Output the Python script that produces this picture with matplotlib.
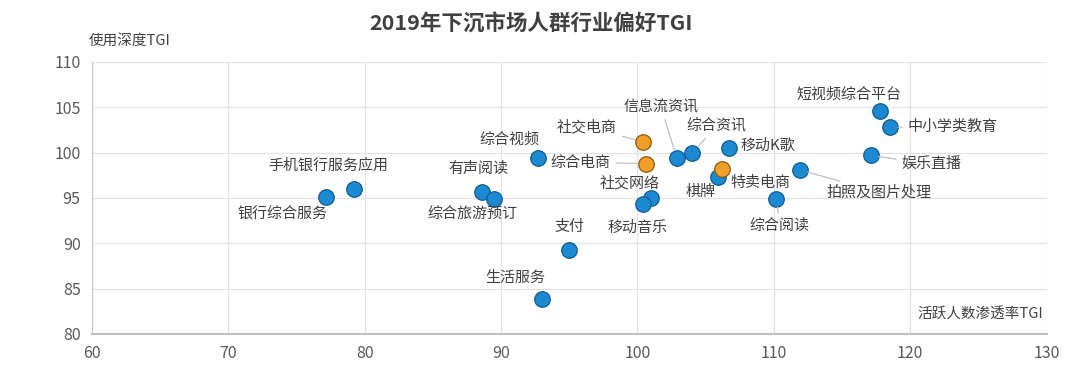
import matplotlib.pyplot as plt

plt.rcParams['font.family'] = ['Noto Sans CJK SC', 'DejaVu Sans']

names = ["银行综合服务", "手机银行服务应用", "有声阅读", "综合旅游预订", "综合视频",
         "生活服务", "支付", "社交电商", "综合电商", "社交网络", "移动音乐",
         "信息流资讯", "综合资讯", "移动K歌", "棋牌", "特卖电商", "拍照及图片处理",
         "综合阅读", "短视频综合平台", "中小学类教育", "娱乐直播"]
reach_tgi = [77.2, 79.2, 88.6, 89.5, 92.7, 93.0, 95.0, 100.4, 100.6, 101.0, 100.4,
             102.9, 104.0, 106.7, 105.9, 106.2, 111.9, 110.2, 117.8, 118.5, 117.1]
depth_tgi = [95.1, 96.0, 95.7, 94.9, 99.4, 83.9, 89.3, 101.2, 98.8, 95.0, 94.3,
             99.4, 100.0, 100.5, 97.3, 98.2, 98.1, 94.9, 104.6, 102.8, 99.7]
ecommerce = ["社交电商", "综合电商", "特卖电商"]

# label offset in pixels, and whether a leader line is drawn
label_pos = {
    "银行综合服务": (-44, -17, False), "手机银行服务应用": (-25, 23, False),
    "有声阅读": (-4, 23, False), "综合旅游预订": (-22, -16, False),
    "综合视频": (-28, 18, False), "生活服务": (-27, 21, False),
    "支付": (0, 23, False), "社交电商": (-56, 15, True),
    "综合电商": (-65, 1, True), "社交网络": (-21, 15, False),
    "移动音乐": (-5, -23, False), "信息流资讯": (-16, 51, True),
    "综合资讯": (25, 26, True), "移动K歌": (39, 2, False),
    "特卖电商": (39, -14, False), "棋牌": (-17, -15, False),
    "拍照及图片处理": (79, -22, True), "综合阅读": (3, -27, True),
    "短视频综合平台": (-31, 16, False), "中小学类教育": (63, 0, True),
    "娱乐直播": (61, -9, True),
}

fig = plt.figure(figsize=(10.8, 3.69), dpi=100)
ax = fig.add_axes([0.085, 0.095, 0.884, 0.737])

for n, x, y in zip(names, reach_tgi, depth_tgi):
    if n in ecommerce:
        fc, ec = "#f0a029", "#8a5a10"
    else:
        fc, ec = "#1b8ad3", "#145c8c"
    ax.scatter(x, y, s=125, color=fc, edgecolor=ec, linewidth=0.9, zorder=3)
    dx, dy, line = label_pos[n]
    arrow = dict(arrowstyle="-", color="#bfbfbf", lw=0.9, shrinkA=2, shrinkB=6) if line else None
    ax.annotate(n, (x, y), xytext=(dx, dy), textcoords="offset pixels",
                ha="center", va="center", fontsize=10.8, color="#404040",
                arrowprops=arrow, zorder=4)

ax.set_xlim(60, 130)
ax.set_ylim(80, 110)
ax.set_xticks(range(60, 131, 10))
ax.set_yticks(range(80, 111, 5))
ax.grid(True, color="#e3e3e3", linewidth=0.9)
ax.set_axisbelow(True)
for s in ["top", "right"]:
    ax.spines[s].set_visible(False)
ax.spines["left"].set_color("#c8c8c8")
ax.spines["bottom"].set_color("#bfbfbf")
ax.spines["bottom"].set_linewidth(1.5)
ax.tick_params(length=0, labelsize=11.5, labelcolor="#595959", pad=8)

fig.text(0.492, 0.935, "2019年下沉市场人群行业偏好TGI", ha="center", va="center",
         fontsize=15.5, fontweight="bold", color="#404040")
fig.text(0.082, 0.89, "使用深度TGI", ha="left", va="center", fontsize=10.5, color="#404040")
ax.text(0.997, 0.07, "活跃人数渗透率TGI", transform=ax.transAxes, ha="right",
        va="center", fontsize=10.5, color="#404040")

fig.savefig("out.png", dpi=100)
